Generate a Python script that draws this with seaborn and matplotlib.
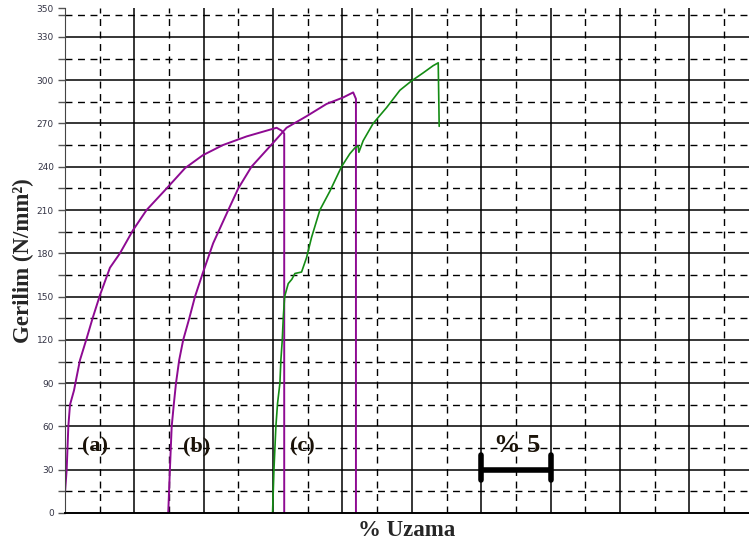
import matplotlib
matplotlib.use("Agg")
import matplotlib.pyplot as plt
import seaborn as sns
import pandas as pd
import numpy as np

# curve (a) - % uzama / gerilim
a_strain = [0, 0, 0.12, 0.24, 0.36, 0.65, 0.79, 1.08, 1.56, 1.99, 2.52, 3.24, 3.96,
            4.9, 5.88, 7.33, 8.65, 9.94, 11.38, 13.09, 14.53, 15.25, 15.61, 15.8, 15.8]
a_stress = [0, 14, 30, 60, 75, 85, 92, 106, 121, 135, 151, 170, 180,
            196, 210, 225, 239, 248, 255, 261, 265, 267, 265, 263, 0]

# curve (b)
b_strain = [7.44, 7.56, 7.69, 7.85, 8.0, 8.23, 8.52, 8.96, 9.37, 9.92, 10.68, 11.77,
            12.49, 13.44, 14.95, 15.97, 17.41, 18.85, 20.05, 20.77, 20.97, 20.97]
b_stress = [0, 30, 60, 76, 90, 106, 120, 135, 150, 166, 187, 210,
            225, 240, 256, 267, 275, 283.5, 288, 291.5, 287, 0]

# curve (c)
c_strain = [14.96, 15.06, 15.2, 15.32, 15.49, 15.56, 15.66, 15.73, 15.83, 16.09, 16.35,
            16.57, 17.05, 17.41, 17.77, 18.37, 19.09, 19.93, 20.53, 20.89, 21.13, 21.18,
            21.49, 22.21, 23.18, 24.14, 24.98, 25.81, 26.53, 26.9, 26.97]
c_stress = [0, 30, 60, 76, 90, 106, 120, 135, 150, 159, 162,
            166, 167, 177, 191, 210, 223, 240, 249, 253, 254.5, 250,
            258, 270, 281, 293, 299.5, 305, 310, 312, 268]

curve_labels = ["(a)", "(b)", "(c)"]
label_x = [2.15, 9.5, 17.1]
label_y = 46

y_ticks = [0, 30, 60, 90, 120, 150, 180, 210, 240, 270, 300, 330, 350]

sns.set_style("white")
plt.rcParams["font.family"] = ["DejaVu Sans"]

fig = plt.figure(figsize=(7.49, 5.44), dpi=100)
ax = fig.add_axes([65 / 749, 31 / 544, 1 - 65 / 749, 505 / 544])

# grid: solid majors, dashed minors
for x in np.arange(0, 50, 5):
    ax.axvline(x, color="black", lw=1.1, zorder=0)
for x in np.arange(2.5, 50, 5):
    ax.axvline(x, color="black", lw=1.0, ls=(0, (5, 4)), zorder=0)
for y in np.arange(30, 350, 30):
    ax.axhline(y, color="black", lw=1.1, zorder=0)
for y in np.arange(15, 350, 30):
    ax.axhline(y, color="black", lw=1.0, ls=(0, (5, 4)), zorder=0)

df_a = pd.DataFrame({"x": a_strain, "y": a_stress})
df_b = pd.DataFrame({"x": b_strain, "y": b_stress})
df_c = pd.DataFrame({"x": c_strain, "y": c_stress})
sns.lineplot(data=df_a, x="x", y="y", sort=False, estimator=None,
             color="#8e0a92", lw=1.4, ax=ax)
sns.lineplot(data=df_b, x="x", y="y", sort=False, estimator=None,
             color="#8e0a92", lw=1.4, ax=ax)
sns.lineplot(data=df_c, x="x", y="y", sort=False, estimator=None,
             color="#148c14", lw=1.2, ax=ax)

for lab, lx in zip(curve_labels, label_x):
    ax.text(lx, label_y, lab, ha="center", va="center", fontsize=16,
            fontweight="bold", family="Liberation Serif", color="#1a1208")

# scale bar "% 5"
ax.plot([30, 35], [30, 30], color="black", lw=4, solid_capstyle="butt")
ax.plot([30, 30], [23, 40], color="black", lw=4, solid_capstyle="round")
ax.plot([35, 35], [23, 40], color="black", lw=4, solid_capstyle="round")
ax.text(32.6, 47, "% 5", ha="center", va="center", fontsize=19,
        fontweight="bold", family="Liberation Serif", color="#1a1208")

ax.set_xlim(0, 49.3)
ax.set_ylim(0, 350)
ax.set_xticks([])
ax.set_yticks(y_ticks)
ax.set_yticks(np.arange(15, 350, 30), minor=True)
ax.tick_params(axis="y", which="both", left=True, length=5, width=1,
               color="#555555", labelsize=6.5, labelcolor="#333344", pad=3)
for s in ["top", "right"]:
    ax.spines[s].set_visible(False)
ax.spines["left"].set_color("#444444")
ax.spines["bottom"].set_color("black")
ax.spines["bottom"].set_linewidth(1.4)

ax.set_xlabel("% Uzama", fontsize=16.5, fontweight="bold", family="Liberation Serif",
              labelpad=5)
ax.set_ylabel("Gerilim (N/mm²)", fontsize=16.5, fontweight="bold",
              family="Liberation Serif", labelpad=2)

fig.savefig("out.png", dpi=100)
